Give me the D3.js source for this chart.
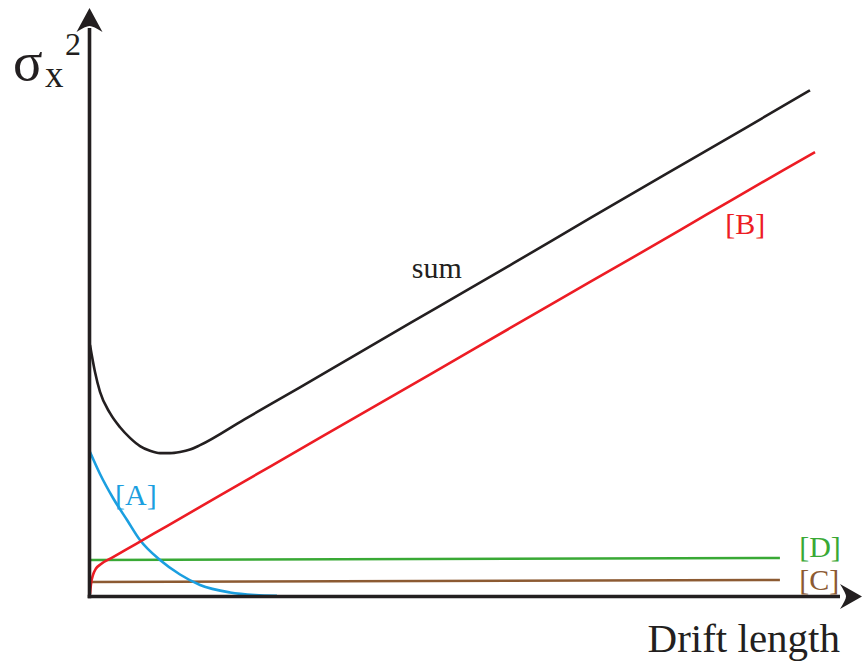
<!DOCTYPE html>
<html>
<head>
<meta charset="utf-8">
<script src="https://cdn.jsdelivr.net/npm/d3@7"></script>
<style>
  html, body { margin: 0; padding: 0; background: #fff; }
  svg { display: block; }
</style>
</head>
<body>
<svg id="chart" width="863" height="661"></svg>
<script>
// ---- Data (schematic units) ----
const sumX = [0, 0.065, 0.130, 0.260, 0.390, 0.519, 0.649, 0.779, 0.909, 1.039, 1.169, 1.299, 1.429, 2.0, 2.727, 3.5, 4.5, 5.5, 6.5, 7.5, 8.5, 9.351];
const sumY = [42.7, 38.1, 34.7, 31.1, 28.7, 26.9, 25.5, 24.7, 24.3, 24.3, 24.5, 24.9, 25.65, 30.0, 35.5, 41.4, 49.0, 56.6, 64.3, 71.9, 79.5, 86.0];

const bX = [0, 0.013, 0.039, 0.078, 0.130, 0.299, 0.6, 1.0, 2.0, 3.0, 4.0, 5.0, 6.0, 7.0, 8.0, 9.0, 9.416];
const bY = [0.34, 2.04, 3.57, 4.68, 5.32, 6.6, 8.87, 11.9, 19.45, 27.0, 34.56, 42.1, 49.7, 57.2, 64.8, 72.4, 75.5];

const aX = [0, 0.130, 0.299, 0.481, 0.649, 0.909, 1.169, 1.429, 1.818, 2.143, 2.429];
const aY = [24.49, 20.75, 16.67, 12.93, 9.52, 6.12, 3.66, 1.87, 0.60, 0.17, 0.05];

const dX = [0, 8.96];
const dY = [6.12, 6.46];

const cX = [0, 8.96];
const cY = [2.38, 2.72];

const seriesNames = ["sum", "[B]", "[A]", "[D]", "[C]"];
const xLabel = "Drift length";

// ---- Layout ----
const FONT = "Liberation Serif";
const svg = d3.select("#chart");
const x = d3.scaleLinear().domain([0, 10]).range([90, 860]);
const y = d3.scaleLinear().domain([0, 100]).range([596, 8]);

const colors = {
  sum: "#231f20",
  B: "#ed1c24",
  A: "#1b9fe0",
  D: "#39a935",
  C: "#8c5a32"
};

const zip = (xs, ys) => xs.map((v, i) => [v, ys[i]]);
const line = d3.line().x(d => x(d[0])).y(d => y(d[1])).curve(d3.curveMonotoneX);

const series = [
  { key: "C", pts: zip(cX, cY) },
  { key: "D", pts: zip(dX, dY) },
  { key: "A", pts: zip(aX, aY) },
  { key: "B", pts: zip(bX, bY) },
  { key: "sum", pts: zip(sumX, sumY) }
];

svg.selectAll("path.series")
  .data(series)
  .enter().append("path")
  .attr("class", "series")
  .attr("d", d => line(d.pts))
  .attr("fill", "none")
  .attr("stroke", d => colors[d.key])
  .attr("stroke-width", 2.6)
  .attr("stroke-linejoin", "round");

// ---- Axes with arrowheads ----
const x0 = x(0) - 0.5, y0 = y(0) + 0.5;
const axisColor = "#231f20";
svg.append("line")
  .attr("x1", x0).attr("y1", y0 + 1.8)
  .attr("x2", x0).attr("y2", y.range()[1] + 20)
  .attr("stroke", axisColor).attr("stroke-width", 3.6);
svg.append("line")
  .attr("x1", x0 - 1.8).attr("y1", y0)
  .attr("x2", x.range()[1] - 20).attr("y2", y0)
  .attr("stroke", axisColor).attr("stroke-width", 3.6);

// y arrow
const yTip = y.range()[1];
const ya = d3.path();
ya.moveTo(x0, yTip);
ya.lineTo(x0 + 13, yTip + 24);
ya.quadraticCurveTo(x0 + 4, yTip + 18, x0, yTip + 18);
ya.quadraticCurveTo(x0 - 4, yTip + 18, x0 - 13, yTip + 24);
ya.closePath();
svg.append("path").attr("d", ya.toString()).attr("fill", axisColor);

// x arrow
const xTip = x.range()[1] + 2;
const xa = d3.path();
xa.moveTo(xTip, y0);
xa.lineTo(xTip - 22, y0 - 12.5);
xa.quadraticCurveTo(xTip - 16, y0 - 3, xTip - 16, y0);
xa.quadraticCurveTo(xTip - 16, y0 + 3, xTip - 22, y0 + 12.5);
xa.closePath();
svg.append("path").attr("d", xa.toString()).attr("fill", axisColor);

// ---- Labels ----
// y-axis label sigma_x^2
const yl = svg.append("text").attr("font-family", FONT).attr("fill", axisColor);
yl.append("tspan").attr("x", 13).attr("y", 80).attr("font-size", 55).text("σ");
yl.append("tspan").attr("x", 45).attr("y", 87).attr("font-size", 37).text("x");
yl.append("tspan").attr("x", 65).attr("y", 55).attr("font-size", 32).text("2");

// x-axis label
svg.append("text")
  .attr("x", x.range()[1] - 20).attr("y", 652)
  .attr("text-anchor", "end")
  .attr("font-family", FONT)
  .attr("font-size", 41)
  .attr("fill", axisColor)
  .text(xLabel);

// series labels
const labels = [
  { text: seriesNames[0], px: x(4.18), py: 278, color: colors.sum },
  { text: seriesNames[1], px: x(8.25), py: 234, color: colors.B },
  { text: seriesNames[2], px: x(0.325), py: 505, color: colors.A },
  { text: seriesNames[3], px: x(9.21), py: 557, color: colors.D },
  { text: seriesNames[4], px: x(9.21), py: 590, color: colors.C }
];
svg.selectAll("text.lab")
  .data(labels)
  .enter().append("text")
  .attr("class", "lab")
  .attr("x", d => d.px)
  .attr("y", d => d.py)
  .attr("font-family", FONT)
  .attr("font-size", 30)
  .attr("fill", d => d.color)
  .text(d => d.text);
</script>
</body>
</html>
